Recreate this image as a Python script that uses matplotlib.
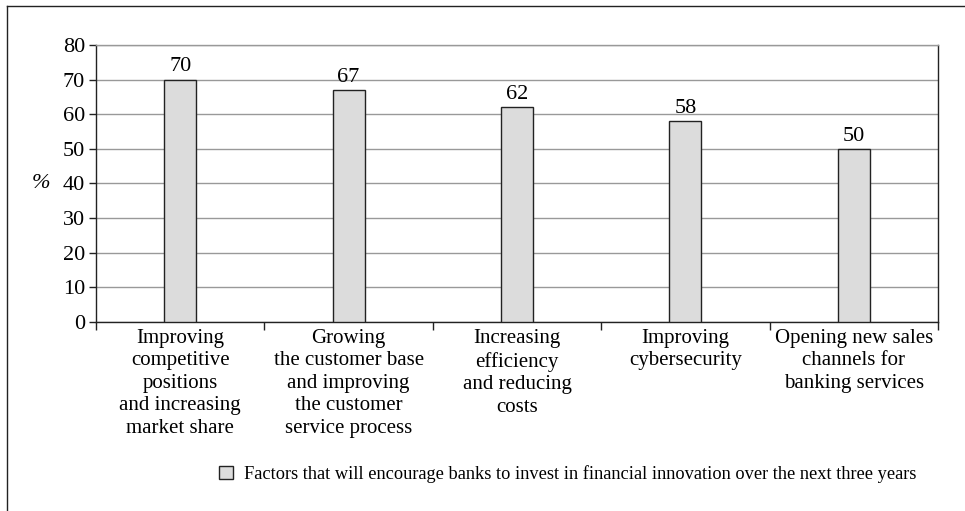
import matplotlib
matplotlib.use("Agg")
from matplotlib import pyplot as plt
from matplotlib.lines import Line2D
import numpy as np

categories = [
    "Improving\ncompetitive\npositions\nand increasing\nmarket share",
    "Growing\nthe customer base\nand improving\nthe customer\nservice process",
    "Increasing\nefficiency\nand reducing\ncosts",
    "Improving\ncybersecurity",
    "Opening new sales\nchannels for\nbanking services",
]
values = [70, 67, 62, 58, 50]
series_name = "Factors that will encourage banks to invest in financial innovation over the next three years"
yticks = [0, 10, 20, 30, 40, 50, 60, 70, 80]

plt.rcParams['font.family'] = ['Liberation Serif', 'DejaVu Serif']
plt.rcParams['font.size'] = 13

fig = plt.figure(figsize=(9.65, 5.11), dpi=100)
ax = fig.add_axes([0.0995, 0.370, 0.8725, 0.542])

x = np.arange(len(categories))
bars = ax.bar(x, values, width=0.19, color='#dcdcdc', edgecolor='#222222',
              linewidth=1.0, zorder=3, label=series_name)
for xi, v in zip(x, values):
    ax.text(xi, v + 0.9, str(v), ha='center', va='bottom', fontsize=16)

ax.set_xlim(-0.5, len(categories) - 0.5)
ax.set_ylim(0, 80)
ax.set_yticks(yticks)
ax.tick_params(axis='y', length=5, width=1, pad=3, labelsize=16, color='#222222')
ax.yaxis.grid(True, color='#999999', linewidth=1, zorder=0)

ax.set_xticks(x)
ax.set_xticklabels(categories, fontsize=15, linespacing=1.25)
ax.tick_params(axis='x', which='major', length=0, pad=5)
ax.set_xticks(np.arange(-0.5, len(categories), 1.0), minor=True)
ax.tick_params(axis='x', which='minor', length=6, width=1, color='#222222')

for s in ['left', 'bottom', 'right']:
    ax.spines[s].set_color('#222222')
    ax.spines[s].set_linewidth(1)
ax.spines['top'].set_color('#999999')
ax.spines['top'].set_linewidth(1)

ax.set_ylabel('%', rotation=0, fontsize=16, style='italic', va='center', ha='center')
ax.yaxis.set_label_coords(-0.065, 0.5)

fig.legend(loc='center', bbox_to_anchor=(0.588, 0.072), frameon=False,
           handlelength=0.75, handleheight=0.75, handletextpad=0.6, fontsize=13.2)

# outer frame (left and top edges of the panel)
fig.add_artist(Line2D([0.007, 0.007], [0.0, 0.988], color='#222222', lw=1, transform=fig.transFigure))
fig.add_artist(Line2D([0.007, 1.0], [0.988, 0.988], color='#222222', lw=1, transform=fig.transFigure))

fig.savefig('out.png', dpi=100)
